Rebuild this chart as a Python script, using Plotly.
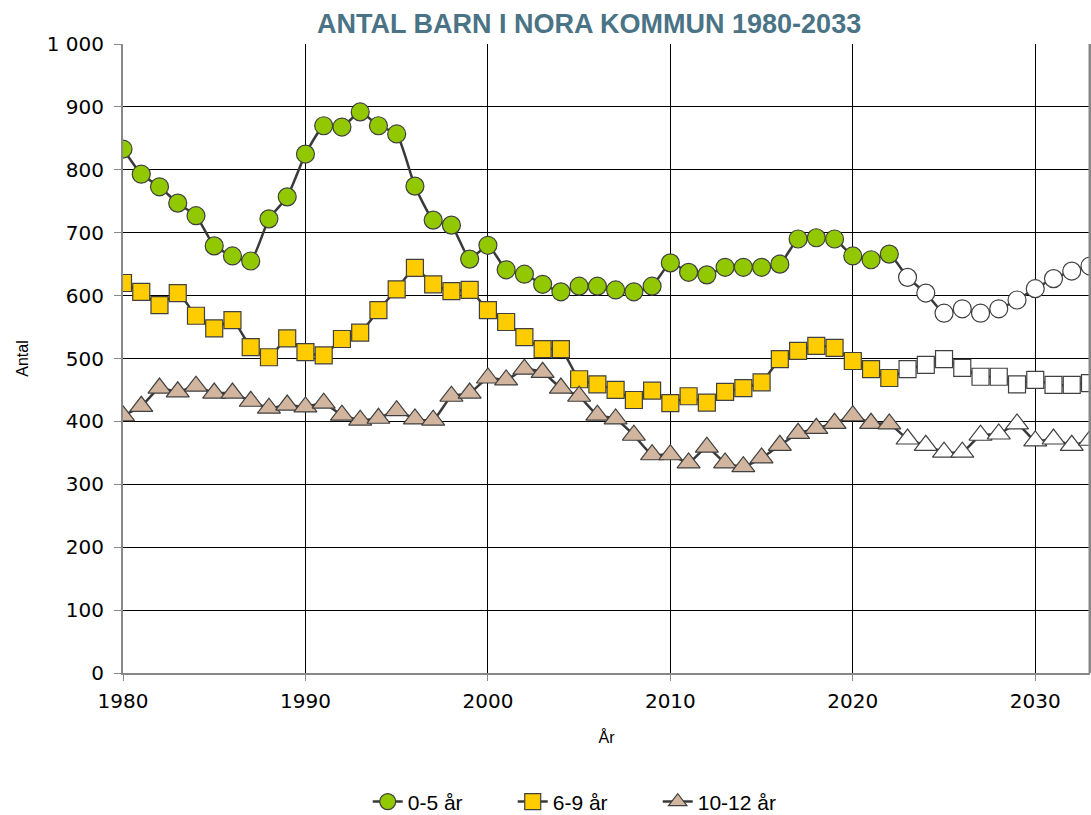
import plotly.graph_objects as go

years = list(range(1980, 2034))
last_actual = 2022

age_0_5 = [833, 793, 773, 747, 727, 679, 663, 655, 722, 757,
           825, 870, 868, 892, 870, 857, 774, 720, 712, 658,
           680, 641, 634, 618, 606, 615, 615, 609, 606, 615,
           652, 637, 633, 645, 645, 645, 650, 690, 692, 690,
           663, 657, 666, 629, 604, 572, 579, 572, 579, 593,
           611, 627, 639, 647]
age_6_9 = [620, 606, 585, 604, 568, 548, 561, 518, 502, 532,
           510, 505, 531, 541, 577, 610, 644, 618, 607, 609,
           577, 558, 534, 515, 515, 467, 459, 450, 434, 449,
           429, 440, 430, 447, 453, 462, 499, 512, 520, 517,
           496, 483, 469, 483, 490, 499, 485, 471, 471, 459,
           466, 458, 458, 461]
age_10_12 = [409, 424, 453, 447, 456, 445, 445, 432, 421, 426,
             423, 429, 410, 402, 405, 417, 404, 402, 440, 445,
             469, 466, 483, 478, 453, 440, 410, 404, 378, 347,
             347, 334, 359, 334, 328, 342, 362, 381, 389, 397,
             409, 397, 396, 372, 362, 351, 351, 378, 380, 396,
             369, 372, 362, 370]

y_ticks = list(range(0, 1001, 100))
y_ticktext = [str(v) if v < 1000 else "1 000" for v in y_ticks]
x_ticks = [1980, 1990, 2000, 2010, 2020, 2030]

series = [
    ("0-5 år", age_0_5, "circle", "#92C800", 18),
    ("6-9 år", age_6_9, "square", "#FFCC00", 17),
    ("10-12 år", age_10_12, "triangle-up", "#D2B59E", 20),
]

fig = go.Figure()
for name, vals, sym, col, size in series:
    colors = [col if y <= last_actual else "#FFFFFF" for y in years]
    fig.add_trace(go.Scatter(
        x=years, y=vals, name=name, mode="lines+markers",
        line=dict(color="#3A3A3A", width=2.5, shape="spline", smoothing=0.5),
        marker=dict(symbol=sym, size=size, color=colors,
                    line=dict(color="#404040", width=1.2)),
    ))

fig.update_layout(
    width=1091, height=815,
    paper_bgcolor="white", plot_bgcolor="white",
    margin=dict(l=123, r=1, t=44, b=142),
    title=dict(text="<b>ANTAL BARN I NORA KOMMUN 1980-2033</b>",
               font=dict(family="Liberation Sans", size=27, color="#4B7386"),
               x=0.54, xanchor="center", y=0.9706, yanchor="middle"),
    font=dict(family="Liberation Sans", size=18, color="#000000"),
    legend=dict(orientation="h", x=0.478, xanchor="center",
                yref="container", y=0.016, yanchor="middle",
                font=dict(size=21, family="Liberation Sans"),
                entrywidth=100, entrywidthmode="pixels"),
    showlegend=True,
)
fig.update_xaxes(range=[1980, 2033], tickvals=x_ticks,
                 tickfont=dict(family="DejaVu Sans", size=20),
                 showgrid=True, gridcolor="#000000", gridwidth=1,
                 showline=True, linecolor="#888888", linewidth=2,
                 ticks="outside", ticklen=6, tickcolor="#888888",
                 ticklabelstandoff=3,
                 title=dict(text="År", font=dict(size=16), standoff=20),
                 zeroline=False)
fig.update_yaxes(range=[0, 1000], tickvals=y_ticks, ticktext=y_ticktext,
                 tickfont=dict(family="DejaVu Sans", size=20),
                 showgrid=True, gridcolor="#000000", gridwidth=1,
                 showline=True, linecolor="#888888", linewidth=2,
                 ticks="outside", ticklen=7, tickcolor="#888888",
                 ticklabelstandoff=6,
                 title=dict(text="Antal", font=dict(size=16), standoff=14),
                 zeroline=False)
fig.add_shape(type="line", xref="x domain", yref="y domain", x0=1, x1=1, y0=0, y1=1,
              line=dict(color="#888888", width=3))

fig.write_html("out.html", config={"displayModeBar": False},
               post_script="document.body.style.margin='0';")
